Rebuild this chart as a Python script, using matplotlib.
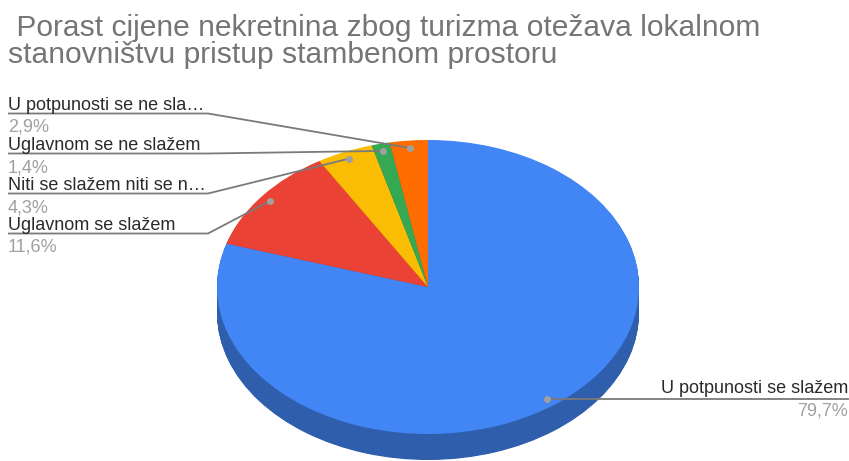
import numpy as np
import matplotlib
matplotlib.use("Agg")
import matplotlib.pyplot as plt
import matplotlib.colors as mcolors

plt.rcParams['font.family'] = ['Liberation Sans', 'DejaVu Sans']

title = " Porast cijene nekretnina zbog turizma otežava lokalnom\nstanovništvu pristup stambenom prostoru"
categories = ["U potpunosti se slažem", "Uglavnom se slažem",
              "Niti se slažem niti se ne slažem", "Uglavnom se ne slažem",
              "U potpunosti se ne slažem"]
short_labels = ["U potpunosti se slažem", "Uglavnom se slažem",
                "Niti se slažem niti se n…", "Uglavnom se ne slažem",
                "U potpunosti se ne sla…"]
values = [79.7, 11.6, 4.3, 1.4, 2.9]
pct_labels = ["79,7%", "11,6%", "4,3%", "1,4%", "2,9%"]
colors = ["#4285f4", "#ea4335", "#fbbc04", "#34a853", "#ff6d01"]

W, H = 849, 461
fig = plt.figure(figsize=(W / 100, H / 100), dpi=100)

# pie geometry in pixels
CX, CY, RX, RY, DEPTH = 428, 287, 211, 147, 26

ax = fig.add_axes([0, 0, 1, 1])
ax.axis('off')

def d2x(px):
    return (px - CX) / RX

def d2y(py):
    return (CY - py) / RY

def fx(px):
    return px / W

def fy(py):
    return 1 - py / H

dark = [tuple(c * 0.71 for c in mcolors.to_rgb(col)) for col in colors]
depth = DEPTH / RY
n_layers = 40
for d in np.linspace(depth, 0, n_layers, endpoint=False):
    ax.pie(values, colors=dark, startangle=90, counterclock=False,
           center=(0, -d), radius=1, wedgeprops=dict(linewidth=0))
wedges, _ = ax.pie(values, colors=colors, startangle=90, counterclock=False,
                   center=(0, 0), radius=1, wedgeprops=dict(linewidth=0))
ax.set_aspect('auto')
ax.set_xlim(d2x(0), d2x(W))
ax.set_ylim(d2y(H), d2y(0))

# anchor points on slices
total = sum(values)
cum = np.cumsum([0] + values[:-1])
mids = [90 - 360 * (c + v / 2) / total for c, v in zip(cum, values)]
anchors = [(0.95 * np.cos(np.radians(a)), 0.95 * np.sin(np.radians(a))) for a in mids]

line_col = "#7a7a7a"
dot_col = "#a0a0a0"
label_col = "#2a2a2a"
pct_col = "#a0a0a0"
fs = 13

# title
fig.text(fx(8), fy(36), title.split("\n")[0], fontsize=21.6, color="#757575", va='baseline', ha='left')
fig.text(fx(8), fy(63), title.split("\n")[1], fontsize=21.6, color="#757575", va='baseline', ha='left')

# left labels (order top to bottom: index 4,3,2,1)
left_order = [4, 3, 2, 1]
for k, i in enumerate(left_order):
    base = 110 + 40 * k
    ly = base + 3.5
    fig.text(fx(8), fy(base), short_labels[i], fontsize=fs, color=label_col, va='baseline', ha='left')
    fig.text(fx(8), fy(base + 22), pct_labels[i], fontsize=fs, color=pct_col, va='baseline', ha='left')
    ax.plot([d2x(8), d2x(208), anchors[i][0]], [d2y(ly), d2y(ly), anchors[i][1]],
            color=line_col, lw=1.3, solid_capstyle='butt')
    ax.plot(anchors[i][0], anchors[i][1], 'o', ms=5, color=dot_col, mec='none')

# right label (blue)
i = 0
fig.text(fx(848), fy(393), short_labels[i], fontsize=fs, color=label_col, va='baseline', ha='right')
fig.text(fx(848), fy(415), pct_labels[i], fontsize=fs, color=pct_col, va='baseline', ha='right')
ax.plot([anchors[i][0], d2x(848)], [anchors[i][1], anchors[i][1]], color=line_col, lw=1.3)
ax.plot(anchors[i][0], anchors[i][1], 'o', ms=5, color=dot_col, mec='none')

fig.savefig("out.png", dpi=100, facecolor="white")
